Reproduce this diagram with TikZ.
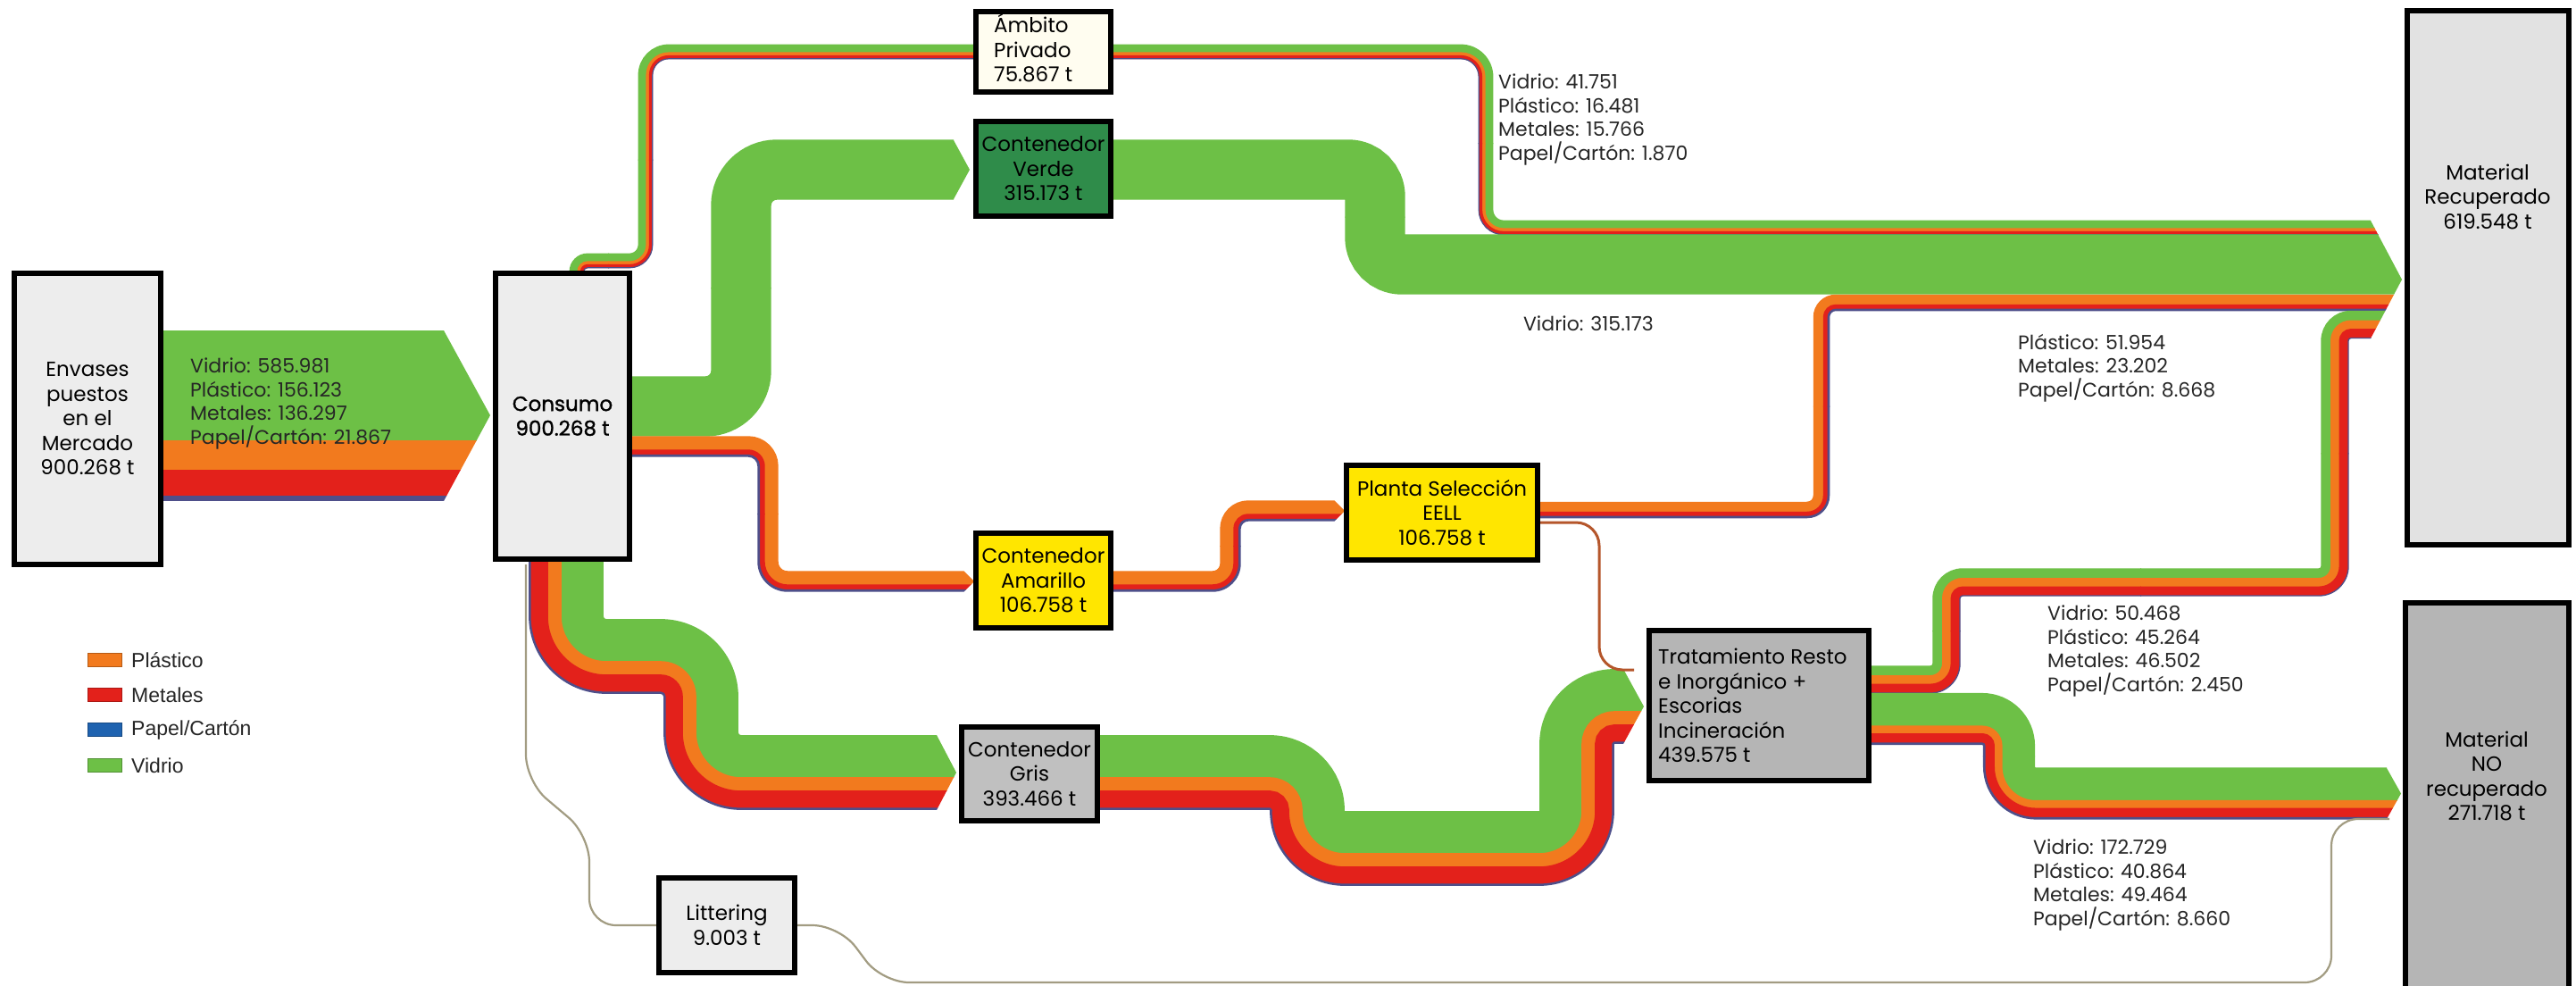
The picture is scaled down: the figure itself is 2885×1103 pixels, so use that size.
\documentclass[tikz,border=0pt]{standalone}
\usepackage{fontspec}
\setmainfont{Poppins}
\newfontfamily\legendfont{Liberation Sans}
\newfontfamily\stagestrong{Poppins}[FakeBold=1.2]

\definecolor{vidrio}{HTML}{6DC046}
\definecolor{plastico}{HTML}{F27A1E}
\definecolor{metales}{HTML}{E3211B}
\definecolor{papel}{HTML}{4E4F8A}
\definecolor{papelkey}{HTML}{1F63B0}
\definecolor{boxlight}{HTML}{EDEDED}
\definecolor{boxcream}{HTML}{FFFDF0}
\definecolor{boxgreen}{HTML}{2F8C4A}
\definecolor{boxyellow}{HTML}{FFE600}
\definecolor{boxgray}{HTML}{C0C0C0}
\definecolor{boxdark}{HTML}{B5B5B5}
\definecolor{boxrec}{HTML}{E2E2E2}
\definecolor{rejectline}{HTML}{B5562B}
\definecolor{litterline}{HTML}{A29C82}
\definecolor{labeltext}{HTML}{262626}

% ---------------------------------------------------------------
% Orthogonal Sankey bands: a centre line (x/y/radius list) and
% coloured layers stacked side by side, with concentric corners.
% ---------------------------------------------------------------
\makeatletter
\newcounter{bandpts}
\def\bandget#1#2{\csname band@#1@\number#2\endcsname}
\def\bandput#1#2#3{\expandafter\xdef\csname band@#1@\number#2\endcsname{#3}}

\newcommand\flowpath[1]{%
  \setcounter{bandpts}{0}%
  \foreach \px/\py/\pr in {#1}{%
    \bandput{x}{\value{bandpts}}{\px}%
    \bandput{y}{\value{bandpts}}{\py}%
    \bandput{r}{\value{bandpts}}{\pr}%
    \stepcounter{bandpts}}%
  \xdef\band@last{\number\numexpr\value{bandpts}-1\relax}%
  \xdef\band@corners{\number\numexpr\value{bandpts}-2\relax}%
  \xdef\band@splits{\number\numexpr\value{bandpts}-3\relax}%
  \foreach \k in {1,...,\band@last}{%
    \bandput{ux}{\k}{\fpeval{sign(\bandget{x}{\k}-(\bandget{x}{\numexpr\k-1\relax}))}}%
    \bandput{uy}{\k}{\fpeval{sign(\bandget{y}{\k}-(\bandget{y}{\numexpr\k-1\relax}))}}%
  }%
}

% #1 colour, #2 line width, #3 offset of the layer to the left of travel
\newcommand\flowlayer[3]{%
  \xdef\band@col{#1}\xdef\band@w{#2}\xdef\band@d{#3}%
  \foreach \k in {0,...,\band@last}{%
    \ifnum\k=0\relax
      \xdef\band@lx{\bandget{uy}{1}}\xdef\band@ly{\fpeval{0-(\bandget{ux}{1})}}%
    \else\ifnum\k=\band@last\relax
      \xdef\band@lx{\bandget{uy}{\k}}\xdef\band@ly{\fpeval{0-(\bandget{ux}{\k})}}%
    \else
      \xdef\band@lx{\fpeval{(\bandget{uy}{\k})+(\bandget{uy}{\numexpr\k+1\relax})}}%
      \xdef\band@ly{\fpeval{0-(\bandget{ux}{\k})-(\bandget{ux}{\numexpr\k+1\relax})}}%
    \fi\fi
    \bandput{qx}{\k}{\fpeval{round(\bandget{x}{\k}+(\band@d)*(\band@lx),3)}}%
    \bandput{qy}{\k}{\fpeval{round(\bandget{y}{\k}+(\band@d)*(\band@ly),3)}}%
  }%
  \ifnum\band@last=1\relax
    \xdef\band@ax{\bandget{qx}{0}}\xdef\band@ay{\bandget{qy}{0}}%
    \xdef\band@bx{\bandget{qx}{1}}\xdef\band@by{\bandget{qy}{1}}%
    \draw[color=\band@col, line width=\band@w pt] (\band@ax,\band@ay) -- (\band@bx,\band@by);
  \else
    \foreach \k in {1,...,\band@corners}{%
      \xdef\band@turn{\fpeval{(\bandget{ux}{\numexpr\k+1\relax})*(\bandget{uy}{\k})-(\bandget{uy}{\numexpr\k+1\relax})*(\bandget{ux}{\k})}}%
      \bandput{rho}{\k}{\fpeval{round(max(\bandget{r}{\k}-(\band@d)*(\band@turn),0.05),3)}}%
    }%
    \ifnum\band@corners>1\relax
      \foreach \k in {1,...,\band@splits}{%
        \xdef\band@kn{\number\numexpr\k+1\relax}%
        \xdef\band@L{\fpeval{abs(\bandget{qx}{\band@kn}-(\bandget{qx}{\k}))+abs(\bandget{qy}{\band@kn}-(\bandget{qy}{\k}))}}%
        \xdef\band@t{\fpeval{\bandget{rho}{\k}+(\band@L-\bandget{rho}{\k}-\bandget{rho}{\band@kn})/2}}%
        \bandput{sx}{\k}{\fpeval{round(\bandget{qx}{\k}+(\band@t)*(\bandget{ux}{\band@kn}),3)}}%
        \bandput{sy}{\k}{\fpeval{round(\bandget{qy}{\k}+(\band@t)*(\bandget{uy}{\band@kn}),3)}}%
      }%
    \fi
    \foreach \k in {1,...,\band@corners}{%
      \ifnum\k=1\relax
        \xdef\band@ax{\bandget{qx}{0}}\xdef\band@ay{\bandget{qy}{0}}%
      \else
        \xdef\band@ax{\fpeval{\bandget{sx}{\numexpr\k-1\relax}-0.5*(\bandget{ux}{\k})}}%
        \xdef\band@ay{\fpeval{\bandget{sy}{\numexpr\k-1\relax}-0.5*(\bandget{uy}{\k})}}%
      \fi
      \ifnum\k=\band@corners\relax
        \xdef\band@bx{\bandget{qx}{\band@last}}\xdef\band@by{\bandget{qy}{\band@last}}%
      \else
        \xdef\band@bx{\fpeval{\bandget{sx}{\k}+0.5*(\bandget{ux}{\numexpr\k+1\relax})}}%
        \xdef\band@by{\fpeval{\bandget{sy}{\k}+0.5*(\bandget{uy}{\numexpr\k+1\relax})}}%
      \fi
      \xdef\band@cx{\bandget{qx}{\k}}\xdef\band@cy{\bandget{qy}{\k}}%
      \xdef\band@rho{\bandget{rho}{\k}}%
      \draw[color=\band@col, line width=\band@w pt, rounded corners=\band@rho pt]
        (\band@ax,\band@ay) -- (\band@cx,\band@cy) -- (\band@bx,\band@by);
    }%
  \fi
}

% layers from the left side of travel: vidrio, plastico, metales, papel
\newcommand\band@layer[2]{%
  \ifdim#2pt>0pt\relax
    \flowlayer{#1}{\fpeval{#2+0.8}}{\fpeval{\band@W/2-\band@cum-(#2)/2}}%
    \xdef\band@cum{\fpeval{\band@cum+(#2)}}%
  \fi}
\newcommand\flowband[4]{%
  \xdef\band@W{\fpeval{(#1)+(#2)+(#3)+(#4)}}%
  \xdef\band@cum{0}%
  \band@layer{vidrio}{#1}\band@layer{plastico}{#2}%
  \band@layer{metales}{#3}\band@layer{papel}{#4}}
\makeatother

\tikzset{
  stage/.style={draw=black, line width=6pt, inner sep=0pt, align=center,
    font=\fontsize{23}{27.5}\selectfont, text=black},
  stagetext/.style={inner sep=0pt, font=\fontsize{23}{27.5}\selectfont, text=black},
  flowlabel/.style={inner sep=0pt, anchor=west, align=left,
    font=\fontsize{22}{26.6}\selectfont, text=labeltext},
  legendkey/.style={draw=#1!75!black, line width=1pt, fill=#1,
    minimum width=38pt, minimum height=15pt, inner sep=0pt},
  legendtext/.style={inner sep=0pt, anchor=west,
    font=\legendfont\fontsize{23}{27}\selectfont, text=black!85},
  rejectflow/.style={draw=rejectline, line width=3pt, rounded corners=26pt},
  litterflow/.style={draw=litterline, line width=2.2pt, rounded corners=30pt},
}

\begin{document}
\begin{tikzpicture}[x=1pt, y=-1pt]
\useasboundingbox (0,0) rectangle (2885,1103);
\fill[white] (0,0) rectangle (2885,1103);

% market -> consumption
\begin{scope}
  \clip (170,300) -- (497,300) -- (497,370) -- (549,465) -- (497,561) -- (497,650) -- (170,650) -- cycle;
  \flowpath{183/465.1/0, 560/465.1/0}
  \flowband{123.8}{33.0}{28.8}{4.6}
\end{scope}

% consumption -> private collection
\flowpath{646/322/0, 646/292/12, 723/292/18, 723/58/26, 1100/58/0}
\flowband{8.8}{3.5}{3.3}{0.4}

% consumption -> green container
\begin{scope}
  \clip (690,100) -- (1068,100) -- (1068,157) -- (1086,190) -- (1068,223) -- (1068,500) -- (690,500) -- cycle;
  \flowpath{700/455/0, 830/455/40, 830/190/40, 1090/190/0}
  \flowband{66.6}{0}{0}{0}
\end{scope}

% consumption -> yellow container
\begin{scope}
  \clip (690,480) -- (1079,480) -- (1079,639) -- (1091,651) -- (1079,663) -- (1079,690) -- (690,690) -- cycle;
  \flowpath{700/500/0, 860/500/22, 860/651/22, 1095/651/0}
  \flowband{0}{15.0}{5.6}{2.0}
\end{scope}

% yellow container -> sorting plant
\begin{scope}
  \clip (1230,540) -- (1494,540) -- (1494,560) -- (1506,572) -- (1494,584) -- (1494,680) -- (1230,680) -- cycle;
  \flowpath{1240/651/0, 1378/651/20, 1378/572/20, 1512/572/0}
  \flowband{0}{15.0}{5.6}{2.0}
\end{scope}

% consumption -> grey container
\begin{scope}
  \clip (580,600) -- (1049,600) -- (1049,823) -- (1071,865) -- (1049,907) -- (1049,1000) -- (580,1000) -- cycle;
  \flowpath{634/622/0, 634/735/45, 785/735/45, 785/865/45, 1085/865/0}
  \flowband{47.1}{15.0}{19.2}{1.7}
\end{scope}

% grey container -> residual treatment
\begin{scope}
  \clip (1200,700) -- (1818,700) -- (1818,749) -- (1841,791) -- (1818,833) -- (1818,1010) -- (1200,1010) -- cycle;
  \flowpath{1222/865/0, 1464/865/42, 1464/950/42, 1766/950/42, 1766/791/42, 1850/791/0}
  \flowband{47.1}{15.0}{19.2}{1.7}
\end{scope}

% everything that reaches the recovered material
\begin{scope}
  \clip (1230,0) -- (2655,0) -- (2655,247) -- (2690,313) -- (2655,379) -- (2655,800) -- (1230,800) -- cycle;
  \flowpath{1240/58/0, 1664/58/28, 1664/255/20, 2710/255/0}
  \flowband{8.8}{3.5}{3.3}{0.4}
  \flowpath{1240/190/0, 1540/190/30, 1540/296/30, 2710/296/0}
  \flowband{66.6}{0}{0}{0}
  \flowpath{1720/571/0, 2040/571/16, 2040/339/16, 2710/339/0}
  \flowband{0}{11.0}{4.9}{1.8}
  \flowpath{2088/761/0, 2180/761/18, 2180/652/18, 2615/652/18, 2615/363.5/18, 2710/363.5/0}
  \flowband{10.7}{9.6}{9.8}{0.5}
\end{scope}

% residual treatment -> not recovered
\begin{scope}
  \clip (2080,760) -- (2673,760) -- (2673,860) -- (2689,888.5) -- (2673,917) -- (2673,940) -- (2080,940) -- cycle;
  \flowpath{2088/805/0, 2250/805/30, 2250/888.5/30, 2700/888.5/0}
  \flowband{36.5}{8.6}{10.4}{1.8}
\end{scope}

% thin flows: plant rejects and littering
\draw[rejectflow] (1720,585) -- (1791,585) -- (1791,750) -- (1830,750);
\draw[litterflow] (589,632) -- (589,875) -- (660,935) -- (660,1036) -- (738,1036);
\draw[litterflow] (890,1036) -- (940,1036) -- (988,1100) -- (2611,1100) -- (2611,917) -- (2676,917);

% stages
\node[stage, fill=boxlight, minimum width=164pt, minimum height=326pt] (envases) at (98,469)
  {Envases\\puestos\\en el\\Mercado\\900.268 t};
\node[stage, fill=boxlight, minimum width=150pt, minimum height=320pt,
      font=\stagestrong\fontsize{23}{27.5}\selectfont] (consumo) at (630,466)
  {Consumo\\900.268 t};
\node[stage, fill=boxcream, minimum width=151pt, minimum height=90pt] (ambito) at (1168.5,58) {};
\node[stagetext, anchor=west, align=left] (ambitotext) at (1113,54) {Ámbito\\Privado\\75.867 t};
\node[stage, fill=boxgreen, minimum width=151pt, minimum height=106pt] (verde) at (1168.5,189)
  {Contenedor\\Verde\\315.173 t};
\node[stage, fill=boxyellow, minimum width=151pt, minimum height=106pt] (amarillo) at (1168.5,650)
  {Contenedor\\Amarillo\\106.758 t};
\node[stage, fill=boxyellow, minimum width=214pt, minimum height=106pt] (planta) at (1615,574)
  {Planta Selección\\EELL\\106.758 t};
\node[stage, fill=boxgray, minimum width=152pt, minimum height=105pt] (gris) at (1153,866.5)
  {Contenedor\\Gris\\393.466 t};
\node[stage, fill=boxdark, minimum width=246pt, minimum height=168pt] (tratamiento) at (1970,790) {};
\node[stagetext, anchor=west, align=left] (tratamientotext) at (1857,790)
  {Tratamiento Resto\\e Inorgánico +\\Escorias\\Incineración\\439.575 t};
\node[stage, fill=boxlight, minimum width=152pt, minimum height=106pt] (littering) at (814,1036)
  {Littering\\9.003 t};
\node[stage, fill=boxrec, minimum width=181pt, minimum height=598pt] (recuperado) at (2786.5,311) {};
\node[stagetext, align=center] (recuperadotext) at (2786,220) {Material\\Recuperado\\619.548 t};
\node[stage, fill=boxdark, minimum width=183pt, minimum height=437pt] (norecuperado) at (2785.5,893.5) {};
\node[stagetext, align=center] (norecuperadotext) at (2785,869) {Material\\NO\\recuperado\\271.718 t};

% flow labels
\node[flowlabel] (lblmercado) at (213,452) {Vidrio: 585.981\\Plástico: 156.123\\Metales: 136.297\\Papel/Cartón: 21.867};
\node[flowlabel] (lblprivado) at (1678,134) {Vidrio: 41.751\\Plástico: 16.481\\Metales: 15.766\\Papel/Cartón: 1.870};
\node[flowlabel, anchor=center] (lblverde) at (1779,362) {Vidrio: 315.173};
\node[flowlabel] (lblplanta) at (2260,412) {Plástico: 51.954\\Metales: 23.202\\Papel/Cartón: 8.668};
\node[flowlabel] (lblrecup) at (2293,729) {Vidrio: 50.468\\Plástico: 45.264\\Metales: 46.502\\Papel/Cartón: 2.450};
\node[flowlabel] (lblnorecup) at (2277,991) {Vidrio: 172.729\\Plástico: 40.864\\Metales: 49.464\\Papel/Cartón: 8.660};

% legend
\node[legendkey=plastico] (keyplastico) at (117.5,739) {};
\node[legendtext] (txtplastico) at (147,739) {Plástico};
\node[legendkey=metales] (keymetales) at (117.5,778) {};
\node[legendtext] (txtmetales) at (147,778) {Metales};
\node[legendkey=papelkey] (keypapel) at (117.5,817) {};
\node[legendtext] (txtpapel) at (147,817) {Papel/Cartón};
\node[legendkey=vidrio] (keyvidrio) at (117.5,857) {};
\node[legendtext] (txtvidrio) at (147,857) {Vidrio};
\end{tikzpicture}
\end{document}
